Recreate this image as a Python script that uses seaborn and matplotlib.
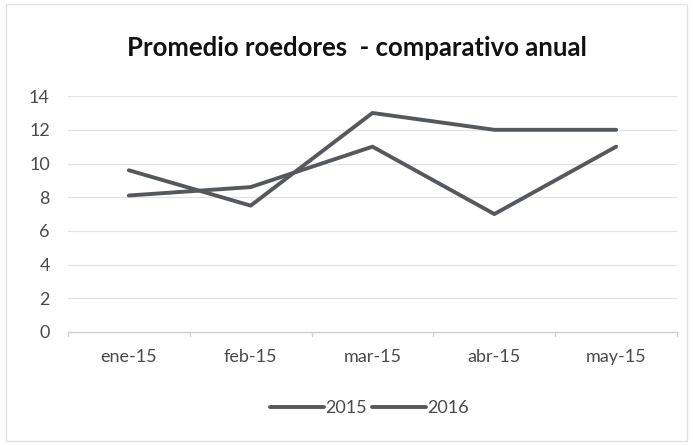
import matplotlib
matplotlib.use("Agg")
import matplotlib.pyplot as plt
import seaborn as sns
import pandas as pd

months = ["ene-15", "feb-15", "mar-15", "abr-15", "may-15"]
serie_2015 = [8.1, 8.6, 11.0, 7.0, 11.0]
serie_2016 = [9.6, 7.5, 13.0, 12.0, 12.0]
years = ["2015", "2016"]
y_ticks = [0, 2, 4, 6, 8, 10, 12, 14]

df = pd.DataFrame({
    "mes": months * 2,
    "valor": serie_2015 + serie_2016,
    "anio": [years[0]] * len(months) + [years[1]] * len(months),
})
df["pos"] = list(range(len(months))) * 2

sns.set_theme(style="white")
plt.rcParams["font.family"] = ["Lato", "DejaVu Sans"]

fig = plt.figure(figsize=(6.93, 4.45), dpi=100)
ax = fig.add_axes([0.098, 0.254, 0.879, 0.53])

line_col = "#55595d"
sns.lineplot(data=df, x="pos", y="valor", hue="anio",
             palette={"2015": line_col, "2016": line_col},
             linewidth=2.8, ax=ax, legend=True)

ax.set_xlim(-0.5, len(months) - 0.5)
ax.set_ylim(0, 14)
ax.set_yticks(y_ticks)
ax.set_xticks(range(len(months)))
ax.set_xticklabels(months)
ax.yaxis.grid(True, color="#e3e3e3", linewidth=0.9)
ax.set_axisbelow(True)
for s in ["top", "right", "left"]:
    ax.spines[s].set_visible(False)
ax.spines["bottom"].set_color("#d0d0d0")
ax.spines["bottom"].set_linewidth(1.0)

# category separator ticks on the x axis
for b in [x - 0.5 for x in range(len(months) + 1)]:
    ax.plot([b, b], [0, -0.25], color="#d0d0d0", linewidth=1.0, clip_on=False)

ax.tick_params(axis="both", length=0, labelsize=13, colors="#4a4a4a")
ax.tick_params(axis="x", pad=12)
ax.tick_params(axis="y", pad=13)
ax.set_xlabel("")
ax.set_ylabel("")

leg = ax.legend(loc="upper center", bbox_to_anchor=(0.495, -0.22), ncol=2,
                frameon=False, handlelength=3.0, columnspacing=0.3,
                handletextpad=0.05, fontsize=13)
for t in leg.get_texts():
    t.set_color("#4a4a4a")

fig.text(0.515, 0.893, "Promedio roedores  - comparativo anual",
         ha="center", va="center", fontsize=18.5, fontweight="bold", color="#111111")

# chart border
fig.patches.append(plt.Rectangle((0.008, 0.01), 0.984, 0.98, transform=fig.transFigure,
                                 fill=False, edgecolor="#e2e2e2", linewidth=1.0))

fig.savefig("out.png", dpi=100, facecolor="white")
